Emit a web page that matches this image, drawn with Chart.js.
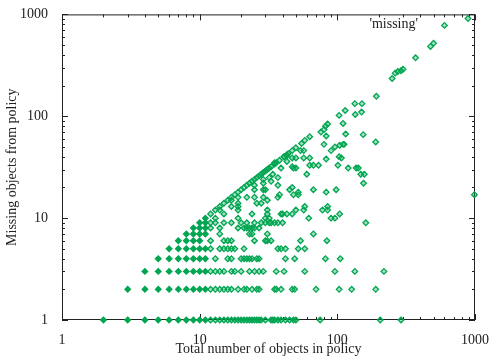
<!DOCTYPE html>
<html>
<head>
<meta charset="utf-8">
<script src="https://cdn.jsdelivr.net/npm/chart.js@4/dist/chart.umd.min.js"></script>
<style>
  html, body { margin: 0; padding: 0; background: #fff; }
  #wrap { width: 493px; height: 360px; }
</style>
</head>
<body>
<div id="wrap"><canvas id="plot"></canvas></div>
<script>
// policies with only a few missing objects: one list of totals per missing count
var missing1 = [2,3,4,5,6,7,8,9,10,11,12,13,14,15,16,17,18,19,20,21,22,23,24,25,26,27,28,30,33,34,35,37,39,42,45,48,50,75,205,290];
var missing2 = [3,4,5,6,7,8,9,10,11,12,13,14,15,16,17,19,21,22,24,26,27,35,36,39,47,49,70,103,127,190];
var missing3 = [4,5,6,7,8,9,10,11,12,13,14,15,17,18,20,23,25,27,29,36,41,58,96,134,218];
var missing4 = [5,6,7,8,9,10,11,13,16,17,20,21,22,23,24,26,27,42,49,82,105];
var missing5 = [6,7,8,9,10,11,12,14,15,16,17,18,21,37,39,42,52,58];
var missing6 = [7,8,9,10,12,15,16,17,25,30,31,33,54,84];
var missing7 = [8,9,10,11,14,23,24,31,67];
var missing8 = [9,10,11,12,14,19,21,22,23,24,25,27];
var missing9 = [10,11,12,13,15,17,20,22,25,28,30,32,33,35,37,40,161];
var missing10 = [11,13,19,30,32,62,90,96];

// [total, missing] near the upper edge (almost everything missing)
var nearlyAll = [
  [12,11],[13,12],[14,13],[15,14],[16,15],[17,16],[18,17],[19,18],[20,19],[21,20],
  [22,21],[23,22],[24,23],[25,24],[26,25],[27,26],[28,27],[29,28],[30,29],[31,30],
  [32,31],[33,32],[35,34],[36,35],[38,37],[41,40],[43,42],[44,43],[47,46],[50,49],
  [55,54],[58,58],[63,63],[76,70],[80,74],[82,80],[85,84],[103,102],[114,114],
  [134,133],[151,133],[192,157],[250,235],[263,265],[275,275],[290,280],[300,290],
  [370,375],[475,485],[500,520],[600,780],[890,910]
];

// [total, missing] for the rest of the policies
var others = [
  [14,12],[15,11],[17,13],[17,15],[19,12],[19,13],[19,14],[19,16],[22,16],[24,11],
  [25,16],[25,19],[25,21],[26,14],[28,14],[29,16],[29,19],[29,22],[29,24],[30,19],
  [31,11],[31,12],[31,15],[32,25],[33,23],[34,27],[35,35],[37,16],[37,21],[37,25],
  [38,17],[39,11],[39,31],[40,11],[41,40],[43,11],[43,36],[43,41],[45,19],[47,11],
  [47,20],[47,32],[47,39],[48,17],[48,31],[50,12],[50,31],[50,39],[52,17],[52,18],
  [54,46],[57,12],[57,39],[57,46],[58,13],[60,27],[63,33],[63,39],[67,19],[67,33],
  [73,33],[78,12],[80,53],[83,18],[83,38],[83,64],[85,12],[85,13],[90,46],[96,50],
  [98,19],[101,33],[103,40],[104,11],[104,52],[107,39],[110,53],[110,85],[112,53],
  [115,67],[120,31],[135,104],[137,31],[142,31],[148,27],[150,110],[154,66],[155,22],
  [157,27],[190,56],[990,17]
];

var lowRows = [missing1, missing2, missing3, missing4, missing5,
               missing6, missing7, missing8, missing9, missing10];

var points = [];
lowRows.forEach(function(row, i) {
  row.forEach(function(t) { points.push({ x: t, y: i + 1 }); });
});
nearlyAll.concat(others).forEach(function(p) {
  points.push({ x: p[0], y: p[1] });
});

var decadeTicks = [1, 10, 100, 1000];
var serif = "'Liberation Serif', 'DejaVu Serif', serif";
var green = '#00a651';

// gnuplot style border with inward ticks on all four sides
var borderTicks = {
  id: 'borderTicks',
  beforeDatasetsDraw: function(chart) {
    var ctx = chart.ctx;
    var a = chart.chartArea;
    var xs = chart.scales.x, ys = chart.scales.y;
    ctx.save();
    ctx.strokeStyle = '#222';
    ctx.lineWidth = 1;
    ctx.strokeRect(a.left + 0.5, a.top + 0.5, a.right - a.left - 1, a.bottom - a.top - 1);
    ctx.beginPath();
    for (var d = 1; d <= 1000; d *= 10) {
      for (var m = 1; m <= 9; m++) {
        var v = d * m;
        if (v > 1000) break;
        var len = m === 1 ? 6 : 3;
        var px = Math.round(xs.getPixelForValue(v)) + 0.5;
        var py = Math.round(ys.getPixelForValue(v)) + 0.5;
        ctx.moveTo(px, a.bottom); ctx.lineTo(px, a.bottom - len);
        ctx.moveTo(px, a.top); ctx.lineTo(px, a.top + len);
        ctx.moveTo(a.left, py); ctx.lineTo(a.left + len, py);
        ctx.moveTo(a.right, py); ctx.lineTo(a.right - len, py);
      }
    }
    ctx.stroke();
    // key text
    ctx.fillStyle = '#222';
    ctx.font = '14px ' + serif;
    ctx.textAlign = 'right';
    ctx.textBaseline = 'alphabetic';
    ctx.fillText("'missing'", 418, 28);
    ctx.restore();
  }
};

new Chart(document.getElementById('plot'), {
  type: 'scatter',
  data: {
    datasets: [{
      label: "'missing'",
      data: points,
      clip: false,
      pointStyle: 'rectRot',
      pointRadius: 2.8,
      pointHoverRadius: 2.8,
      borderWidth: 1.3,
      borderColor: green,
      backgroundColor: function(c) {
        var r = c.raw;
        return r && r.x <= 11 ? green : 'rgba(0,166,81,0.35)';
      }
    }]
  },
  options: {
    responsive: true,
    maintainAspectRatio: false,
    animation: false,
    layout: { padding: { left: 0, right: 16, top: 14, bottom: 0 } },
    plugins: { legend: { display: false }, tooltip: { enabled: false } },
    scales: {
      x: {
        type: 'logarithmic',
        min: 1, max: 1000,
        grid: { display: false },
        border: { display: false },
        afterBuildTicks: function(s) { s.ticks = decadeTicks.map(function(v) { return { value: v }; }); },
        afterFit: function(s) { s.height = 40; },
        ticks: {
          autoSkip: false, maxRotation: 0, padding: 4,
          color: '#222', font: { family: serif, size: 14 },
          callback: function(v) { return String(v); }
        },
        title: {
          display: true, text: 'Total number of objects in policy',
          color: '#222', font: { family: serif, size: 14 },
          padding: { top: 0, bottom: 2 }
        }
      },
      y: {
        type: 'logarithmic',
        min: 1, max: 1000,
        grid: { display: false },
        border: { display: false },
        afterBuildTicks: function(s) { s.ticks = decadeTicks.map(function(v) { return { value: v }; }); },
        afterFit: function(s) { s.width = 62; },
        ticks: {
          autoSkip: false, padding: 6,
          color: '#222', font: { family: serif, size: 14 },
          callback: function(v) { return String(v); }
        },
        title: {
          display: true, text: 'Missing objects from policy',
          color: '#222', font: { family: serif, size: 14 },
          padding: { top: 4, bottom: 0 }
        }
      }
    }
  },
  plugins: [borderTicks]
});
</script>
</body>
</html>
